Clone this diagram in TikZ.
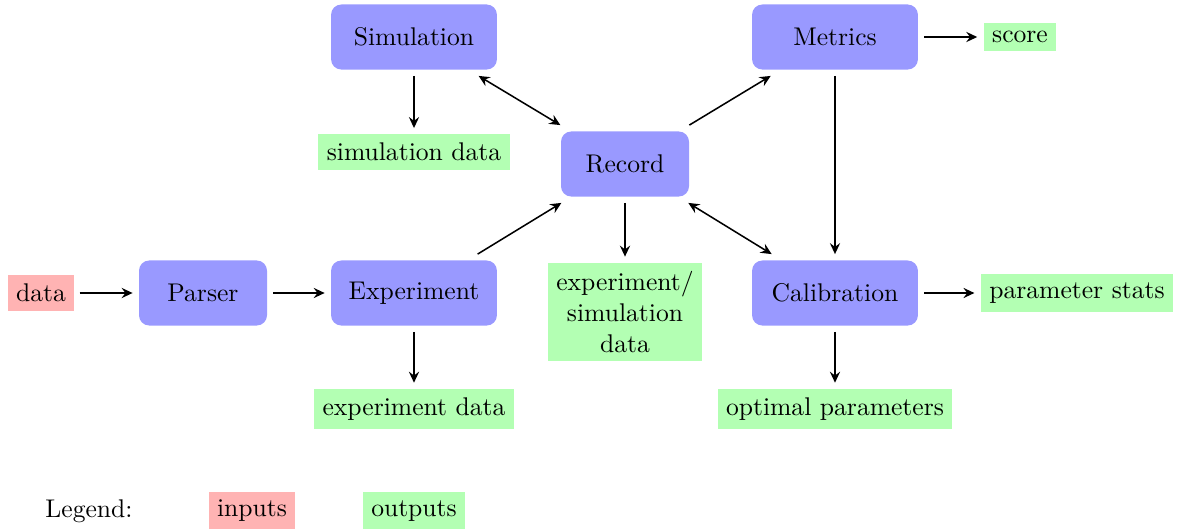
\documentclass[tikz,border=0pt]{standalone}
\usetikzlibrary{arrows.meta}
\definecolor{boxblue}{RGB}{153,153,255}
\definecolor{inred}{RGB}{255,179,179}
\definecolor{outgreen}{RGB}{179,255,179}
\begin{document}
\begin{tikzpicture}[x=0.390625pt,y=-0.390625pt,
  proc/.style={fill=boxblue,rounded corners=4pt,minimum height=25.4pt,outer sep=2.5pt,inner sep=0pt},
  wide/.style={proc,minimum width=64.8pt},
  narrow/.style={proc,minimum width=50pt},
  inp/.style={fill=inred,outer sep=2pt},
  outp/.style={fill=outgreen,outer sep=2.5pt},
  conn/.style={semithick,-{Stealth[length=4.3pt,width=4pt,inset=1.5pt]}},
  bconn/.style={semithick,{Stealth[length=4.3pt,width=4pt,inset=1.5pt]}-{Stealth[length=4.3pt,width=4pt,inset=1.5pt]}}]
\useasboundingbox (0,0) rectangle (1179,529);
\node[inp] (data) at (41,293) {data};
\node[narrow] (parser) at (203,293) {Parser};
\node[wide] (exp) at (414,293) {Experiment};
\node[wide] (sim) at (414,37) {Simulation};
\node[outp] (simdata) at (414,152) {simulation data};
\node[narrow] (rec) at (625,164) {Record};
\node[outp,align=center] (esdata) at (625,312) {experiment/\\simulation\\data};
\node[wide] (met) at (835,37) {Metrics};
\node[outp] (score) at (1020,37) {score};
\node[wide] (cal) at (835,293) {Calibration};
\node[outp] (pstats) at (1077,293) {parameter stats};
\node[outp] (opt) at (835,409) {optimal parameters};
\node[outp] (expdata) at (414,409) {experiment data};
\node (legend) at (89,511) {Legend:};
\node[inp] (linp) at (252,511) {inputs};
\node[fill=outgreen] (lout) at (414,511) {outputs};

\draw[conn] (data) -- (parser);
\draw[conn] (parser) -- (exp);
\draw[conn] (exp) -- (rec);
\draw[bconn] (sim) -- (rec);
\draw[conn] (sim) -- (simdata);
\draw[conn] (rec) -- (esdata);
\draw[conn] (rec) -- (met);
\draw[bconn] (rec) -- (cal);
\draw[conn] (met) -- (cal);
\draw[conn] (met) -- (score);
\draw[conn] (cal) -- (pstats);
\draw[conn] (cal) -- (opt);
\draw[conn] (exp) -- (expdata);
\end{tikzpicture}
\end{document}
